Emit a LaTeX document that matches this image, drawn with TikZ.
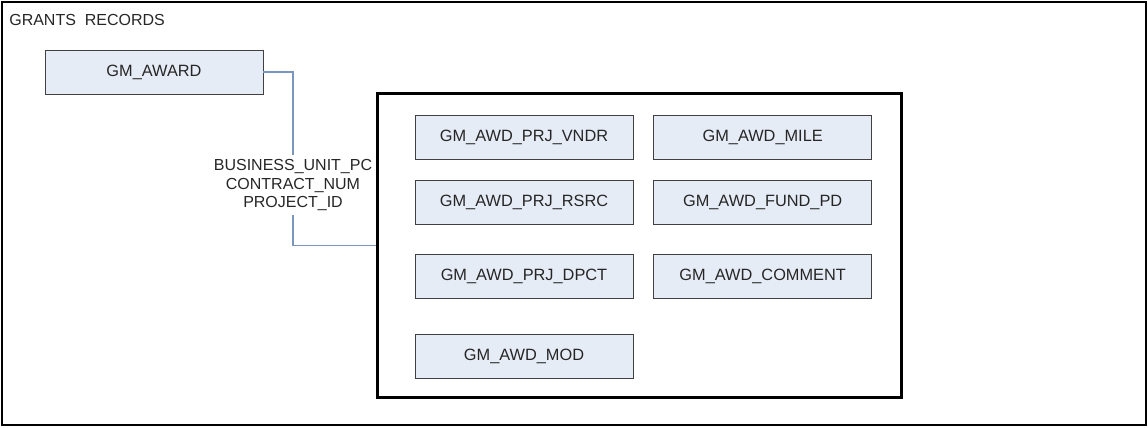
\documentclass[tikz,border=0pt]{standalone}
\usepackage{fontspec}
\setmainfont{Liberation Sans}
\usetikzlibrary{positioning}
\definecolor{boxfill}{RGB}{230,236,246}
\definecolor{keyline}{RGB}{122,150,190}

\begin{document}
\begin{tikzpicture}[x=0.02cm,y=-0.02cm,
	tbl/.style={draw=black!75,fill=boxfill,text=black!85,minimum width=4.36cm,minimum height=0.88cm,inner sep=0pt,font=\fontsize{9.3}{11}\selectfont},
	lbl/.style={inner sep=0pt,text=black!85,font=\fontsize{9.1}{10.8}\selectfont}]
				\useasboundingbox (0,0) rectangle (1148,427);
				% Frames
				\draw[line width=0.8pt] (2,2) rectangle (1146,425);
				\node[lbl,anchor=base west] (title) at (9,25) {GRANTS\ \ RECORDS};
				\node[draw,line width=1.7pt,minimum width=10.5cm,minimum height=6.1cm,inner sep=0pt] (grp) at (639.5,245.5) {};
				
				% Parent record
				\node[tbl] (award) at (154,72) {GM\_AWARD};
				
				% Child records
				\node[tbl] (vndr) at (524,137) {GM\_AWD\_PRJ\_VNDR};
				\node[tbl,right=0.4cm of vndr] (mile) {GM\_AWD\_MILE};
				\node[tbl,below=0.42cm of vndr] (rsrc) {GM\_AWD\_PRJ\_RSRC};
				\node[tbl,right=0.4cm of rsrc] (fund) {GM\_AWD\_FUND\_PD};
				\node[tbl,below=0.58cm of rsrc] (dpct) {GM\_AWD\_PRJ\_DPCT};
				\node[tbl,right=0.4cm of dpct] (comment) {GM\_AWD\_COMMENT};
				\node[tbl,below=0.7cm of dpct] (mod) {GM\_AWD\_MOD};
				
				% Key link
				\node[lbl,align=center,inner sep=2pt] (keys) at (293,185) {BUSINESS\_UNIT\_PC\\CONTRACT\_NUM\\PROJECT\_ID};
				\draw[keyline,line width=0.9pt] (award.east) -| (keys.north);
				\draw[keyline,line width=0.9pt] (keys.south) |- (grp.west);
			\end{tikzpicture}
\end{document}
